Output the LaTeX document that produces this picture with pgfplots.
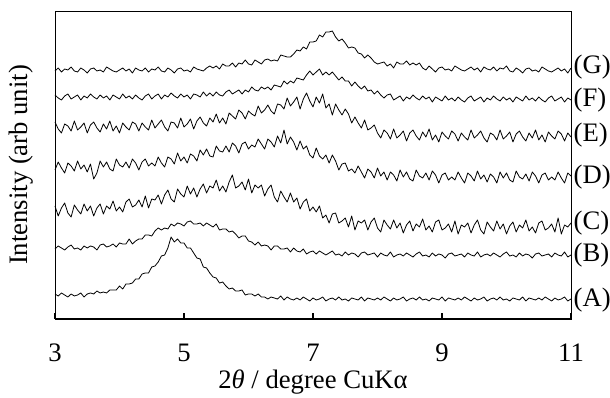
\documentclass[border=0pt]{standalone}
\usepackage{fontspec}
\setmainfont{Liberation Serif}
\usepackage{pgfplots}
\usepackage{pgfplotstable}
\pgfplotsset{compat=1.18}
\pgfplotstableread{
x A B C D E F G
3.00 25 70 113 149 197 224 248
3.05 23 73 103 157 190 221 251
3.10 26 71 111 151 186 219 247
3.15 24 69 116 146 195 223 250
3.20 22 72 106 156 193 225 249
3.25 25 74 102 153 188 220 252
3.30 23 70 114 148 198 222 248
3.35 24 71 109 158 189 224 247
3.40 26 69 105 150 192 219 251
3.45 22 73 115 154 196 223 249
3.50 25 71 108 147 186 221 246
3.55 26 73 113 155 194 225 250
3.60 25 72 103 140 197 222 251
3.65 28 69 111 146 191 220 248
3.70 26 74 115 158 187 224 249
3.75 27 75 105 152 195 221 247
3.80 26 72 113 157 190 223 252
3.85 29 73 110 150 198 219 250
3.90 29 75 118 148 188 224 248
3.95 29 72 108 160 193 222 247
4.00 33 76 112 154 186 220 249
4.05 30 75 107 152 196 225 251
4.10 35 75 117 157 192 221 248
4.15 35 80 120 151 189 223 250
4.20 36 75 112 160 197 220 246
4.25 40 78 114 156 195 224 251
4.30 40 80 119 149 188 221 249
4.35 45 80 112 157 196 219 248
4.40 46 84 123 160 192 223 251
4.45 46 84 111 153 189 225 247
4.50 52 83 120 156 199 220 250
4.55 53 88 119 153 191 223 249
4.60 57 91 124 162 195 225 252
4.65 63 89 115 156 199 220 248
4.70 64 91 124 152 192 224 247
4.75 71 90 129 162 188 222 251
4.80 82 95 120 160 197 226 249
4.85 77 93 117 155 196 223 246
4.90 80 96 130 166 191 221 250
4.95 76 95 125 158 201 225 251
5.00 76 93 122 162 192 222 248
5.05 71 97 133 156 195 224 249
5.10 71 98 125 165 200 220 247
5.15 66 95 131 163 190 225 252
5.20 61 95 122 158 198 224 250
5.25 60 96 130 169 202 222 249
5.30 52 93 135 164 196 227 248
5.35 51 96 126 170 193 223 251
5.40 46 94 133 163 201 226 253
5.45 42 92 131 162 197 223 251
5.50 41 95 139 173 205 227 253
5.55 36 89 128 168 196 224 250
5.60 37 90 133 167 201 223 255
5.65 33 90 127 173 195 227 253
5.70 30 87 137 167 206 229 253
5.75 31 88 144 176 203 225 256
5.80 28 85 131 173 200 227 252
5.85 28 81 133 166 209 229 256
5.90 29 83 137 175 206 225 255
5.95 24 83 129 177 200 229 259
6.00 25 78 140 170 208 227 255
6.05 25 77 126 174 205 232 254
6.10 23 74 134 172 203 229 259
6.15 25 77 131 180 213 228 257
6.20 22 73 134 175 206 232 255
6.25 22 74 123 170 209 230 259
6.30 20 73 130 180 214 232 260
6.35 22 69 134 177 208 229 258
6.40 21 73 122 172 205 234 259
6.45 20 73 117 183 215 233 258
6.50 23 70 128 176 214 232 264
6.55 19 70 122 189 210 238 263
6.60 22 71 117 175 221 235 262
6.65 20 67 126 182 213 238 262
6.70 19 71 117 177 217 236 265
6.75 21 68 121 169 222 241 269
6.80 19 67 110 178 210 240 268
6.85 22 70 117 170 220 239 272
6.90 20 65 120 173 226 244 270
6.95 18 67 108 164 218 248 277
7.00 21 68 112 161 212 244 277
7.05 19 65 107 171 222 247 278
7.10 20 68 113 163 216 250 284
7.15 22 66 101 160 225 244 282
7.20 18 64 104 164 211 247 287
7.25 20 66 96 156 215 244 287
7.30 21 68 105 164 204 247 288
7.35 19 64 106 158 215 243 282
7.40 22 65 96 149 209 239 278
7.45 19 63 98 155 204 242 280
7.50 20 67 101 156 210 238 276
7.55 18 64 92 148 205 238 271
7.60 21 66 103 150 196 233 272
7.65 20 65 89 146 202 237 271
7.70 19 62 98 153 196 233 266
7.75 22 66 96 147 191 230 265
7.80 18 67 99 141 199 233 261
7.85 21 64 89 150 189 228 264
7.90 20 65 97 147 191 229 261
7.95 19 66 101 141 194 225 257
8.00 21 62 91 151 186 228 255
8.05 19 66 87 143 181 224 256
8.10 22 64 99 147 189 221 257
8.15 20 63 94 139 186 224 253
8.20 18 67 90 147 180 225 255
8.25 21 62 99 144 190 219 251
8.30 19 64 91 138 181 221 257
8.35 20 65 96 149 184 223 255
8.40 22 63 86 142 188 218 255
8.45 18 66 94 147 178 222 258
8.50 20 64 98 140 186 220 254
8.55 21 62 88 138 189 224 256
8.60 19 65 95 149 183 221 254
8.65 22 67 92 143 179 219 256
8.70 19 63 100 141 187 223 251
8.75 20 64 89 146 182 220 249
8.80 18 62 93 139 190 222 253
8.85 21 66 87 148 179 217 250
8.90 20 63 97 144 184 222 247
8.95 19 65 99 136 177 220 251
9.00 22 64 89 144 187 218 252
9.05 18 61 91 146 183 223 249
9.10 21 65 95 139 180 219 250
9.15 20 66 87 142 188 221 248
9.20 19 63 98 139 185 218 253
9.25 21 64 85 147 178 222 251
9.30 19 65 94 141 186 219 249
9.35 22 62 92 136 182 217 248
9.40 20 66 96 146 179 221 250
9.45 18 64 86 143 189 223 252
9.50 21 63 94 138 181 218 249
9.55 19 67 99 148 184 220 251
9.60 20 62 89 140 188 222 247
9.65 22 64 85 144 181 217 252
9.70 18 65 97 137 177 221 250
9.75 20 63 92 145 186 219 249
9.80 21 66 88 142 184 223 252
9.85 19 64 98 136 179 220 248
9.90 22 62 90 147 189 218 251
9.95 19 65 95 141 180 222 250
10.00 20 67 85 146 183 219 253
10.05 18 63 93 139 187 221 248
10.10 21 64 97 137 177 217 247
10.15 20 62 87 148 185 222 251
10.20 19 66 94 142 188 220 249
10.25 22 63 91 140 182 218 246
10.30 18 65 99 145 178 223 250
10.35 21 64 88 138 186 219 251
10.40 20 61 92 147 181 221 248
10.45 19 65 86 143 189 218 249
10.50 21 66 96 136 179 222 247
10.55 19 63 98 144 184 219 252
10.60 22 64 89 146 177 217 250
10.65 20 65 91 139 187 221 248
10.70 18 62 95 142 183 223 247
10.75 21 66 87 139 180 218 249
10.80 19 64 101 147 188 220 251
10.85 20 63 85 141 185 222 248
10.90 22 67 94 136 178 217 250
10.95 18 62 92 146 186 221 246
11.00 20 64 96 143 182 219 251
}\xrd
\pgfplotsset{trace/.style={black, line width=0.6pt, mark=none, line join=round}}
\begin{document}
\begin{tikzpicture}
\begin{axis}[
  scale only axis, width=387pt, height=231pt,
  xmin=3, xmax=11, ymin=0, ymax=308,
  clip=false,
  xtick={3,5,7,9,11}, ytick=\empty,
  xtick pos=lower, tick align=inside,
  major tick length=4.5pt,
  tick style={black, line width=0.9pt},
  axis line style={line width=0.6pt},
  /pgf/number format/assume math mode=true,
  ticklabel style={font=\fontsize{20}{24}\selectfont},
  xticklabel style={yshift=-15pt},
  label style={font=\fontsize{20}{24}\selectfont},
  xlabel={2\textit{θ} / degree CuKα},
  ylabel={Intensity (arb unit)},
  xlabel style={at={(axis description cs:0.5,0)}, anchor=center, yshift=-47pt},
  ylabel style={at={(axis description cs:-0.066,0.5)}, anchor=center},
]
\addplot[trace] table[x=x, y=A]{\xrd};
\addplot[trace] table[x=x, y=B]{\xrd};
\addplot[trace] table[x=x, y=C]{\xrd};
\addplot[trace] table[x=x, y=D]{\xrd};
\addplot[trace] table[x=x, y=E]{\xrd};
\addplot[trace] table[x=x, y=F]{\xrd};
\addplot[trace] table[x=x, y=G]{\xrd};
\begin{scope}[every node/.style={anchor=west, inner sep=0pt, xshift=1.8pt, font=\fontsize{20}{24}\selectfont}]
\node at (axis cs:11,19) {(A)};
\node at (axis cs:11,64) {(B)};
\node at (axis cs:11,96) {(C)};
\node at (axis cs:11,142) {(D)};
\node at (axis cs:11,184) {(E)};
\node at (axis cs:11,219) {(F)};
\node at (axis cs:11,252) {(G)};
\end{scope}
\end{axis}
\draw[line width=1.3pt] (0,0) -- (387pt,0);
\pgfresetboundingbox
\path[use as bounding box] (-41.25pt,-59.25pt) rectangle (416.25pt,239.25pt);
\end{tikzpicture}
\end{document}
